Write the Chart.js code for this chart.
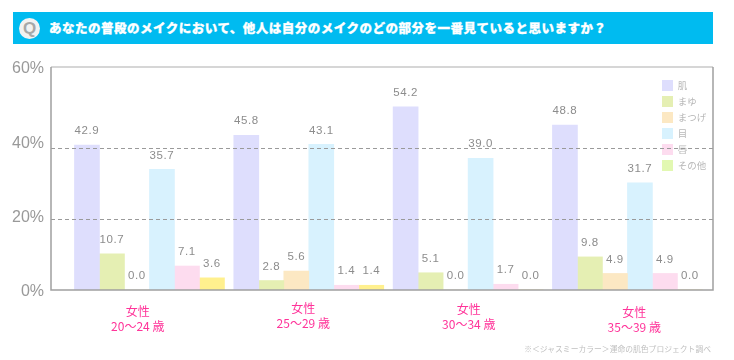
<!DOCTYPE html>
<html>
<head>
<meta charset="utf-8">
<title>chart</title>
<script src="https://cdn.jsdelivr.net/npm/chart.js@4"></script>
<style>
    html, body { margin: 0; padding: 0; background: #fff; }
    #page { position: relative; width: 734px; height: 360px; overflow: hidden; font-family: "Noto Sans CJK JP", sans-serif; }
    #banner { position: absolute; left: 13px; top: 12px; width: 700px; height: 32px; background: #00bbf0; }
    #qmark { position: absolute; left: 6px; top: 6px; width: 21px; height: 21px; border-radius: 50%; background: #f2f2f2; color: #a8a8a8;
             font: bold 17px/21px "Liberation Sans", sans-serif; text-align: center; }
    #question { position: absolute; left: 36px; top: 0; line-height: 31px; color: #fff; font-size: 12.5px; font-weight: 900; letter-spacing: 0.5px; white-space: nowrap; -webkit-text-stroke: 0.3px #fff; }
    #source { position: absolute; right: 23px; top: 342px; color: #c0c0c0; font-size: 7.8px; line-height: 14px; white-space: nowrap; }
    canvas { position: absolute; left: 0; top: 0; }
</style>
</head>
<body>
<div id="page">
    <canvas id="myChart" width="734" height="360"></canvas>
    <div id="banner">
        <div id="qmark">Q</div>
        <div id="question">あなたの普段のメイクにおいて、他人は自分のメイクのどの部分を一番見ていると思いますか？</div>
    </div>
    <div id="source">※＜ジャスミーカラー＞運命の肌色プロジェクト調べ</div>
</div>

<script>
    const groups = [["女性", "20～24 歳"], ["女性", "25～29 歳"], ["女性", "30～34 歳"], ["女性", "35～39 歳"]];
    const seriesNames = ["肌", "まゆ", "まつげ", "目", "唇", "その他"];

    const skin = [42.9, 45.8, 54.2, 48.8];
    const brows = [10.7, 2.8, 5.1, 9.8];
    const lashes = [0.0, 5.6, 0.0, 4.9];
    const eyes = [35.7, 43.1, 39.0, 31.7];
    const lips = [7.1, 1.4, 1.7, 4.9];
    const other = [3.6, 1.4, 0.0, 0.0];

    const barColors = ["#dedefd", "#e5efb3", "#fce8c3", "#d8f2fe", "#fddcef", "#fff08e"];
    const legendColors = ["#dedefd", "#e5efb3", "#fce8c3", "#d8f2fe", "#fddcef", "#e2f8b2"];

    // the dashed lines in the picture do not sit on the same scale as the bars
    const gridValues = [20.9, 41.9];

    const seriesValues = [skin, brows, lashes, eyes, lips, other];

    let datasets = seriesValues.map(function (values, i) {
        return {
            label: seriesNames[i],
            data: values.map(function (v, j) { return { x: j, y: v }; }),
            backgroundColor: barColors[i],
            xAxisID: "xBars",
            yAxisID: "yBars",
            barThickness: 25
        };
    });

    // numbers above the bars
    const valueLabels = {
        id: "valueLabels",
        afterDatasetsDraw: function (chart) {
            let ctx = chart.ctx;
            ctx.save();
            ctx.font = "11.5px 'Liberation Sans'";
            ctx.letterSpacing = "0.6px";
            ctx.fillStyle = "#8c8c8c";
            ctx.textAlign = "center";
            ctx.textBaseline = "middle";
            chart.data.datasets.forEach(function (ds, i) {
                chart.getDatasetMeta(i).data.forEach(function (bar, j) {
                    ctx.fillText(ds.data[j].y.toFixed(1), bar.x, bar.y - 14);
                });
            });
            ctx.restore();
        }
    };

    // frame round the plot, top edge lighter like the original
    const frame = {
        id: "frame",
        afterDraw: function (chart) {
            let a = chart.chartArea;
            let ctx = chart.ctx;
            ctx.save();
            ctx.lineWidth = 1.5;
            ctx.strokeStyle = "#c8c8c8";
            ctx.beginPath(); ctx.moveTo(a.left, a.top); ctx.lineTo(a.right, a.top); ctx.stroke();
            ctx.strokeStyle = "#a0a0a0";
            ctx.beginPath();
            ctx.moveTo(a.left, a.top); ctx.lineTo(a.left, a.bottom); ctx.lineTo(a.right, a.bottom); ctx.lineTo(a.right, a.top);
            ctx.stroke();
            ctx.restore();
        }
    };

    // legend floats inside the plot, top right
    const legendPlace = {
        id: "legendPlace",
        afterLayout: function (chart) {
            let l = chart.legend;
            let w = l.width, h = l.height;
            l.left = 657; l.right = 657 + w;
            l.top = 75; l.bottom = 75 + h;
        }
    };

    // the group captions are not on one line in the original
    const captionNudge = {
        id: "captionNudge",
        beforeDraw: function (chart) {
            const nudge = [1, -2, -1, 2];
            chart.scales.x.getLabelItems().forEach(function (item, i) {
                item.options.translation[1] += nudge[i];
            });
        }
    };

    new Chart(document.getElementById("myChart").getContext("2d"), {
        type: "bar",
        data: { labels: groups, datasets: datasets },
        plugins: [valueLabels, frame, legendPlace, captionNudge],
        options: {
            responsive: false,
            animation: false,
            layout: { padding: { top: 67, right: 21, left: 0, bottom: 0 } },
            plugins: {
                tooltip: { enabled: false },
                title: { display: false },
                legend: {
                    position: "chartArea",
                    align: "start",
                    labels: {
                        boxWidth: 11,
                        boxHeight: 11,
                        padding: 5,
                        color: "#b8b8b8",
                        font: { family: "'Noto Sans CJK JP'", size: 9.5 },
                        generateLabels: function (chart) {
                            return seriesNames.map(function (name, i) {
                                return { text: name, fillStyle: legendColors[i], strokeStyle: legendColors[i], lineWidth: 0, datasetIndex: i, fontColor: "#b8b8b8" };
                            });
                        }
                    }
                }
            },
            scales: {
                x: {
                    type: "category",
                    position: "bottom",
                    grid: { display: false, drawTicks: false },
                    border: { display: false },
                    ticks: {
                        color: "#ff3399",
                        font: { family: "'Noto Sans CJK JP'", size: 12, lineHeight: 1.25 },
                        maxRotation: 0,
                        padding: 13,
                        labelOffset: 4
                    },
                    afterFit: function (scale) { scale.height = 70; }
                },
                xBars: {
                    type: "linear",
                    axis: "x",
                    display: false,
                    offset: false,
                    min: -0.618,
                    max: 3.537,
                    ticks: { stepSize: 1, includeBounds: false }
                },
                y: {
                    type: "linear",
                    position: "left",
                    min: 0,
                    max: 60,
                    grid: { display: false, drawTicks: false },
                    border: { display: false },
                    ticks: {
                        stepSize: 20,
                        color: "#999999",
                        padding: 7,
                        labelOffset: 2,
                        font: { family: "'Liberation Sans'", size: 16 },
                        callback: function (v) { return v + "%"; }
                    },
                    afterFit: function (scale) { scale.width = 51; }
                },
                yBars: {
                    type: "linear",
                    axis: "y",
                    position: "left",
                    min: 0,
                    max: 66,
                    border: { display: false, dash: [4, 3] },
                    grid: { color: "#9a9a9a", drawTicks: false, z: 1, lineWidth: 1 },
                    ticks: { display: false },
                    afterBuildTicks: function (scale) {
                        scale.ticks = gridValues.map(function (v) { return { value: v }; });
                    },
                    afterFit: function (scale) { scale.width = 0; }
                }
            }
        }
    });
</script>
</body>
</html>
